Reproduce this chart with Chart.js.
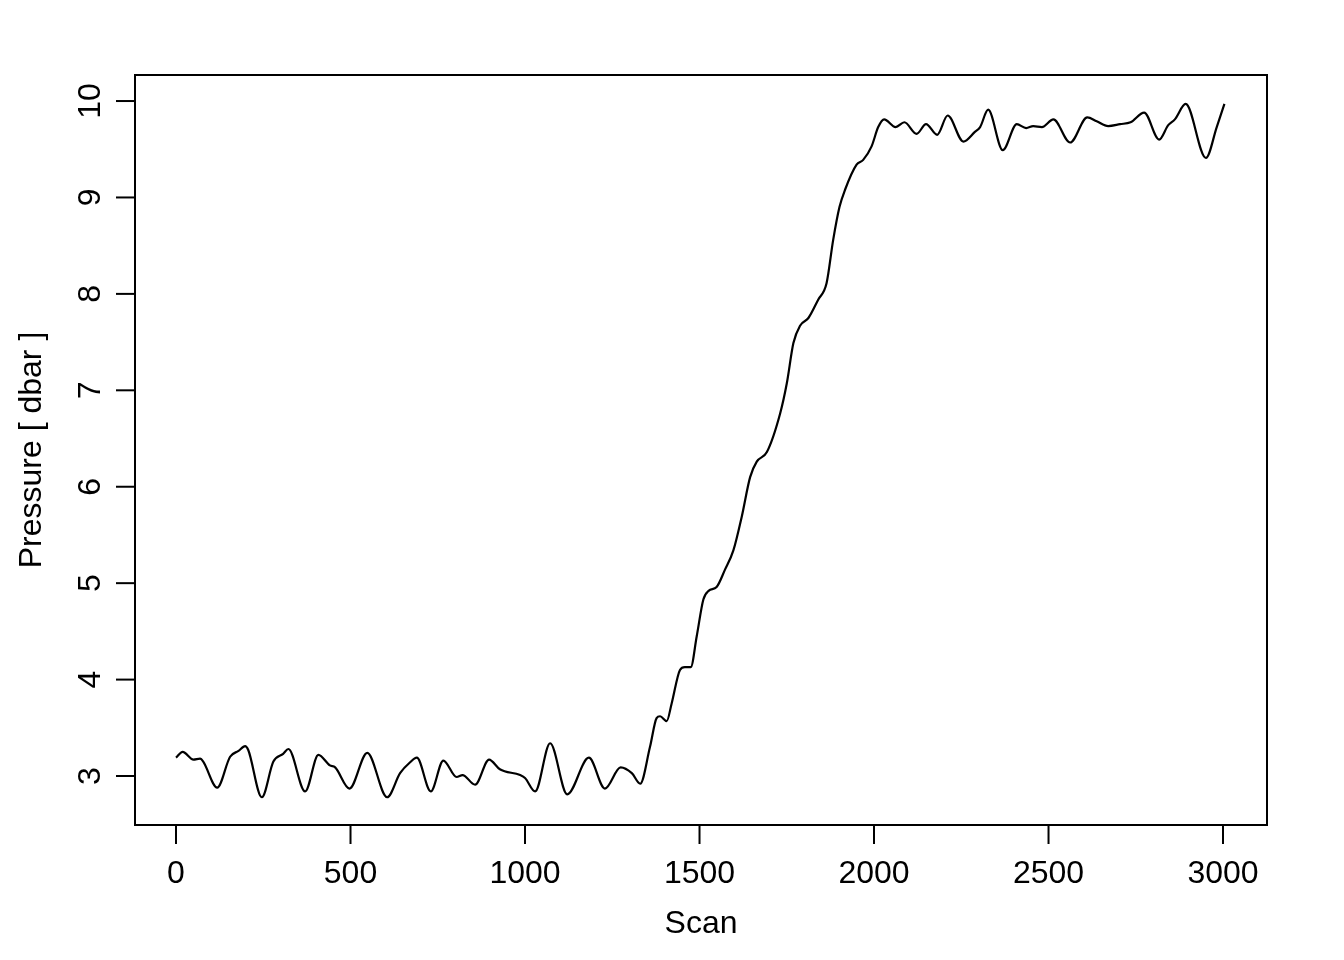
<!DOCTYPE html>
<html>
<head>
<meta charset="utf-8">
<script src="https://cdn.jsdelivr.net/npm/chart.js@4"></script>
<style>
  html, body { margin: 0; padding: 0; background: #fff; }
  canvas { display: block; }
</style>
</head>
<body>
<canvas id="grafica" width="1344" height="960"></canvas>
<script>
// datos
const scan = [0, 19, 50, 69, 78, 118, 155, 179, 198, 207, 246, 279, 307, 322, 370, 408, 441, 456, 497, 548,
  605, 642, 670, 690, 730, 766, 804, 821, 857, 897, 928, 986, 1000, 1029, 1072, 1121, 1183, 1229, 1274, 1306,
  1330, 1358, 1377, 1387, 1406, 1420, 1444, 1458, 1475, 1492, 1511, 1526, 1549, 1573, 1597, 1621, 1645, 1664,
  1693, 1731, 1750, 1769, 1788, 1812, 1840, 1864, 1883, 1901, 1917, 1950, 1969, 1993, 2012, 2029, 2062, 2087,
  2122, 2149, 2181, 2211, 2256, 2289, 2304, 2327, 2369, 2409, 2436, 2456, 2481, 2514, 2562, 2611, 2638, 2671,
  2705, 2735, 2774, 2817, 2843, 2862, 2893, 2951, 2982, 3004];
const pressure = [3.19, 3.25, 3.17, 3.18, 3.15, 2.88, 3.20, 3.26, 3.31, 3.27, 2.78, 3.15, 3.23, 3.28, 2.84, 3.22, 3.11, 3.09, 2.87, 3.24,
  2.78, 3.03, 3.14, 3.19, 2.84, 3.16, 2.99, 3.01, 2.91, 3.17, 3.07, 3.01, 2.98, 2.84, 3.34, 2.81, 3.19, 2.87, 3.09, 3.03,
  2.92, 3.30, 3.60, 3.62, 3.57, 3.75, 4.10, 4.13, 4.13, 4.45, 4.83, 4.92, 4.96, 5.14, 5.34, 5.69, 6.10, 6.26,
  6.36, 6.76, 7.07, 7.49, 7.67, 7.75, 7.94, 8.11, 8.56, 8.90, 9.08, 9.34, 9.39, 9.53, 9.73, 9.81, 9.73, 9.78,
  9.66, 9.76, 9.65, 9.85, 9.58, 9.68, 9.73, 9.91, 9.49, 9.76, 9.72, 9.74, 9.73, 9.81, 9.57, 9.83, 9.79, 9.74,
  9.76, 9.78, 9.88, 9.60, 9.75, 9.81, 9.97, 9.41, 9.73, 9.97];
const xTicks = [0, 500, 1000, 1500, 2000, 2500, 3000];
const yTicks = [3, 4, 5, 6, 7, 8, 9, 10];

const FUENTE = "32px 'Liberation Sans', Arial, sans-serif";

// ejes al estilo de R: caja, marcas y etiquetas giradas
const ejesR = {
  id: "ejesR",
  afterDraw(chart) {
    const ctx = chart.ctx;
    const area = chart.chartArea;
    const x = chart.scales.x;
    const y = chart.scales.y;
    ctx.save();
    ctx.strokeStyle = "#000";
    ctx.fillStyle = "#000";
    ctx.lineWidth = 2;
    ctx.strokeRect(area.left, area.top, area.right - area.left, area.bottom - area.top);

    ctx.font = FUENTE;
    // eje x
    ctx.beginPath();
    ctx.moveTo(x.getPixelForValue(xTicks[0]), area.bottom);
    ctx.lineTo(x.getPixelForValue(xTicks[xTicks.length - 1]), area.bottom);
    ctx.stroke();
    ctx.textAlign = "center";
    ctx.textBaseline = "alphabetic";
    xTicks.forEach((t) => {
      const px = x.getPixelForValue(t);
      ctx.beginPath();
      ctx.moveTo(px, area.bottom);
      ctx.lineTo(px, area.bottom + 19);
      ctx.stroke();
      ctx.fillText(String(t), px, 883);
    });
    ctx.fillText("Scan", (area.left + area.right) / 2, 933);

    // eje y
    yTicks.forEach((t) => {
      const py = y.getPixelForValue(t);
      ctx.beginPath();
      ctx.moveTo(area.left, py);
      ctx.lineTo(area.left - 19, py);
      ctx.stroke();
      ctx.save();
      ctx.translate(100, py);
      ctx.rotate(-Math.PI / 2);
      ctx.fillText(String(t), 0, 0);
      ctx.restore();
    });
    ctx.save();
    ctx.translate(41, (area.top + area.bottom) / 2);
    ctx.rotate(-Math.PI / 2);
    ctx.fillText("Pressure [ dbar ]", 0, 0);
    ctx.restore();
    ctx.restore();
  },
};

const data = {
  datasets: [
    {
      label: "Pressure",
      data: scan.map((s, i) => ({ x: s, y: pressure[i] })),
      borderColor: "#000",
      borderWidth: 2.2,
      pointRadius: 0,
      fill: false,
      cubicInterpolationMode: "monotone",
    },
  ],
};

const config = {
  type: "line",
  data: data,
  options: {
    responsive: false,
    animation: false,
    layout: { padding: { left: 135, top: 75, right: 77, bottom: 135 } },
    plugins: { legend: { display: false }, tooltip: { enabled: false } },
    scales: {
      x: { type: "linear", min: -117.5, max: 3126, display: false },
      y: { type: "linear", min: 2.492, max: 10.27, display: false },
    },
  },
  plugins: [ejesR],
};

new Chart(document.getElementById("grafica"), config);
</script>
</body>
</html>
